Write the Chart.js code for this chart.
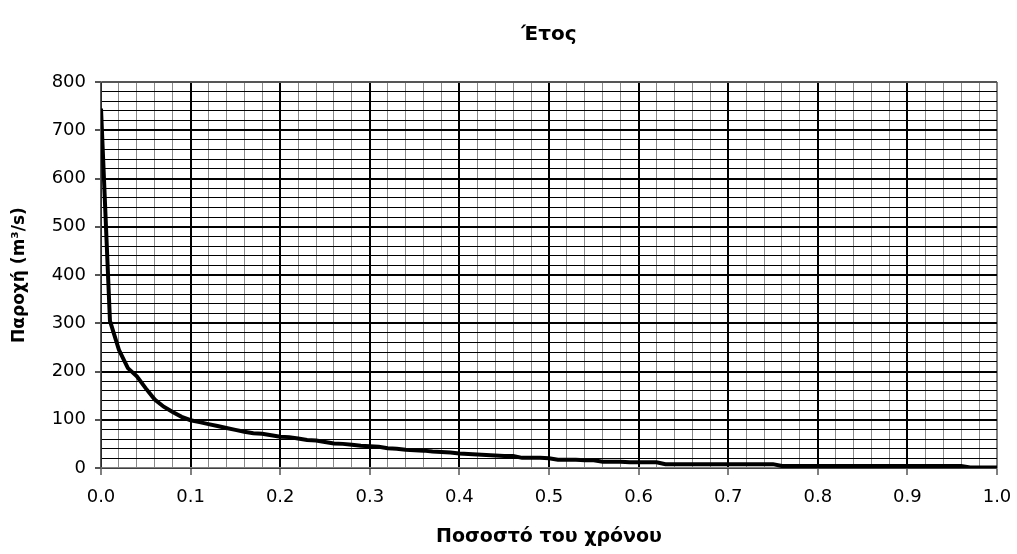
<!DOCTYPE html>
<html>
<head>
<meta charset="utf-8">
<script src="https://cdn.jsdelivr.net/npm/chart.js@4.4.0/dist/chart.umd.min.js"></script>
<style>
  html, body { margin: 0; padding: 0; background: #fff; }
  #wrap { width: 1017px; height: 554px; }
</style>
</head>
<body>
<div id="wrap"><canvas id="durationChart"></canvas></div>
<script>
// Flow duration curve - year

const chartTitle = 'Έτος';
const xTitle = 'Ποσοστό του χρόνου';
const yTitle = 'Παροχή (m³/s)';

// fraction of time (x)
const timeShare = [
  0.00, 0.01, 0.02, 0.03, 0.04, 0.05, 0.06, 0.07, 0.08, 0.09,
  0.10, 0.11, 0.12, 0.13, 0.14, 0.15, 0.16, 0.17, 0.18, 0.19,
  0.20, 0.21, 0.22, 0.23, 0.24, 0.25, 0.26, 0.27, 0.28, 0.29,
  0.30, 0.31, 0.32, 0.33, 0.34, 0.35, 0.36, 0.37, 0.38, 0.39,
  0.40, 0.41, 0.42, 0.43, 0.44, 0.45, 0.46, 0.47, 0.48, 0.49,
  0.50, 0.51, 0.52, 0.53, 0.54, 0.55, 0.56, 0.57, 0.58, 0.59,
  0.60, 0.61, 0.62, 0.63, 0.64, 0.65, 0.66, 0.67, 0.68, 0.69,
  0.70, 0.71, 0.72, 0.73, 0.74, 0.75, 0.76, 0.77, 0.78, 0.79,
  0.80, 0.81, 0.82, 0.83, 0.84, 0.85, 0.86, 0.87, 0.88, 0.89,
  0.90, 0.91, 0.92, 0.93, 0.94, 0.95, 0.96, 0.97, 0.98, 0.99,
  1.00
];

// discharge (m3/s)
const discharge = [
  745, 305, 245, 207, 190, 165, 142, 127, 116, 106,
  99, 95, 91, 87, 83, 79, 75, 72, 71, 68,
  65, 64, 61, 58, 57, 54, 51, 50, 48, 46,
  45, 44, 41, 40, 38, 37, 36, 34, 33, 32,
  30, 29, 28, 27, 26, 25, 25, 21, 21, 21,
  20, 17, 17, 17, 16, 16, 13, 13, 13, 12,
  12, 12, 12, 8, 8, 8, 8, 8, 8, 8,
  8, 8, 8, 8, 8, 8, 4, 4, 4, 4,
  4, 4, 4, 4, 4, 4, 4, 4, 4, 4,
  4, 4, 4, 4, 4, 4, 4, 1, 1, 1,
  1
];

// axis ticks
const xMajorTicks = ['0.0', '0.1', '0.2', '0.3', '0.4', '0.5', '0.6', '0.7', '0.8', '0.9', '1.0'];
const yMajorTicks = [0, 100, 200, 300, 400, 500, 600, 700, 800];

const points = timeShare.map((x, i) => ({ x: x, y: discharge[i] }));

function isMajorX(v) {
  return xMajorTicks.includes(v.toFixed(1)) && Math.abs(v * 10 - Math.round(v * 10)) < 1e-6;
}
function isMajorY(v) {
  return yMajorTicks.includes(Math.round(v)) && Math.abs(v - Math.round(v)) < 1e-6;
}

const FONT = "'DejaVu Sans', Verdana, sans-serif";
const tickFont = { family: FONT, size: 18 };

const ctx = document.getElementById('durationChart').getContext('2d');
new Chart(ctx, {
  type: 'line',
  data: {
    datasets: [{
      data: points,
      borderColor: '#000000',
      borderWidth: 4,
      pointRadius: 0,
      fill: false,
      tension: 0
    }]
  },
  options: {
    responsive: true,
    maintainAspectRatio: false,
    animation: false,
    layout: { padding: 0 },
    plugins: {
      legend: { display: false },
      tooltip: { enabled: false },
      title: {
        display: true,
        fullSize: false,
        text: chartTitle,
        color: '#000',
        font: { family: FONT, size: 20, weight: 'bold' },
        padding: { top: 23, bottom: 35 }
      }
    },
    scales: {
      x: {
        type: 'linear',
        min: 0,
        max: 1,
        afterFit: (scale) => {
          scale.height = 86;
          scale.paddingLeft = 0;
          scale.paddingRight = 20;
        },
        ticks: {
          stepSize: 0.02,
          autoSkip: false,
          maxRotation: 0,
          padding: 12,
          color: '#000',
          font: tickFont,
          callback: (v) => isMajorX(v) ? v.toFixed(1) : ''
        },
        grid: {
          drawTicks: true,
          tickLength: 7,
          color: (c) => {
            const v = c.tick ? c.tick.value : 0;
            if (v >= 0.999) return '#808080';
            return isMajorX(v) ? '#000000' : '#8a8a8a';
          },
          lineWidth: (c) => {
            const v = c.tick ? c.tick.value : 0;
            return isMajorX(v) ? 2 : 1;
          },
          tickColor: (c) => {
            const v = c.tick ? c.tick.value : 0;
            return isMajorX(v) ? '#808080' : 'rgba(0,0,0,0)';
          }
        },
        border: { color: '#808080', width: 1.5 },
        title: {
          display: true,
          text: xTitle,
          color: '#000',
          font: { family: FONT, size: 19, weight: 'bold' },
          padding: { top: 4, bottom: 6 }
        }
      },
      y: {
        type: 'linear',
        min: 0,
        max: 800,
        afterFit: (scale) => { scale.width = 101; },
        ticks: {
          stepSize: 20,
          autoSkip: false,
          padding: 9,
          color: '#000',
          font: tickFont,
          callback: (v) => isMajorY(v) ? String(Math.round(v)) : ''
        },
        grid: {
          drawTicks: true,
          tickLength: 6,
          color: (c) => {
            const v = c.tick ? c.tick.value : 0;
            if (v >= 799) return '#555555';
            return '#000000';
          },
          lineWidth: (c) => {
            const v = c.tick ? c.tick.value : 0;
            return isMajorY(v) ? 2 : 1;
          },
          tickColor: (c) => {
            const v = c.tick ? c.tick.value : 0;
            return isMajorY(v) ? '#555555' : 'rgba(0,0,0,0)';
          }
        },
        border: { color: '#555555', width: 1.5 },
        title: {
          display: true,
          text: yTitle,
          color: '#000',
          font: { family: FONT, size: 17, weight: 'bold' },
          padding: { top: 9, bottom: 4 }
        }
      }
    }
  }
});
</script>
</body>
</html>
